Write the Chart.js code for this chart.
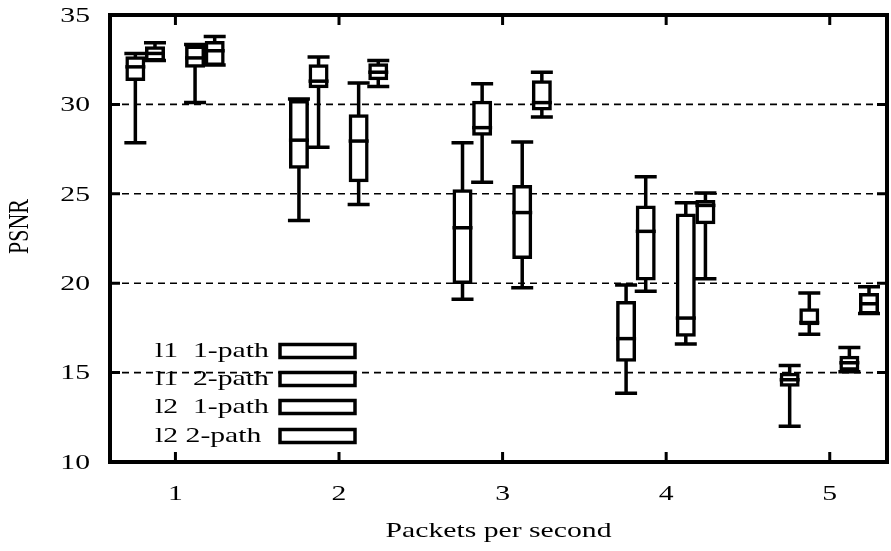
<!doctype html>
<html>
<head>
<meta charset="utf-8">
<title>PSNR vs packets per second</title>
<script src="https://cdn.jsdelivr.net/npm/chart.js@4.4.0/dist/chart.umd.min.js"></script>
<style>
  html, body { margin: 0; padding: 0; background: #fff; }
  #wrap { width: 891px; height: 551px; }
</style>
</head>
<body>
<div id="wrap"><canvas id="canvas" width="891" height="551"></canvas></div>
<script>
var categories = [1, 2, 3, 4, 5];
var yTicks = [10, 15, 20, 25, 30, 35];
var gridValues = [15, 20, 25, 30];

// one entry per packets-per-second value: [min, q1, median, q3, max]
var l1OnePath = [
    [27.85, 31.4, 32.1, 32.6, 32.85],
    [23.5, 26.5, 28.0, 30.15, 30.3],
    [19.1, 20.05, 23.1, 25.15, 27.85],
    [13.85, 15.7, 16.9, 18.9, 19.9],
    [12.0, 14.3, 14.6, 14.9, 15.4]
];
var l1TwoPath = [
    [32.45, 32.5, 32.85, 33.15, 33.45],
    [27.6, 31.0, 31.3, 32.15, 32.65],
    [25.65, 28.35, 28.7, 30.1, 31.15],
    [19.55, 20.25, 22.9, 24.25, 25.95],
    [17.15, 17.75, 17.8, 18.5, 19.45]
];
var l2OnePath = [
    [30.1, 32.15, 32.6, 33.2, 33.35],
    [24.4, 25.75, 27.95, 29.35, 31.2],
    [19.75, 21.45, 23.95, 25.4, 27.9],
    [16.6, 17.1, 18.05, 23.8, 24.5],
    [15.05, 15.2, 15.55, 15.85, 16.4]
];
var l2TwoPath = [
    [32.2, 32.25, 33.0, 33.45, 33.8],
    [31.0, 31.45, 31.8, 32.2, 32.45],
    [29.3, 29.75, 30.1, 31.25, 31.8],
    [20.25, 23.4, 24.35, 24.55, 25.05],
    [18.3, 18.35, 18.85, 19.35, 19.8]
];

var seriesLabels = ['l1  1-path', 'l1  2-path', 'l2  1-path', 'l2 2-path'];
var seriesStats = [l1OnePath, l1TwoPath, l2OnePath, l2TwoPath];
var seriesOffsets = [-0.245, -0.125, 0.12, 0.24];

var FONT = '22px "Liberation Serif", "Times New Roman", serif';
var STRETCH = 1.35;   // the original text is wide

var BOX_W = 20, CAP_W = 22, LINE_W = 3.5;

function stretchedText(ctx, text, x, y, align) {
    ctx.save();
    ctx.translate(x, y);
    ctx.scale(STRETCH, 1);
    ctx.textAlign = align;
    ctx.fillText(text, 0, 0);
    ctx.restore();
}

var boxPlot = {
    id: 'boxPlot',
    beforeDatasetsDraw: function(chart) {
        var ctx = chart.ctx, area = chart.chartArea;
        var xs = chart.scales.x, ys = chart.scales.y;
        ctx.save();
        // dashed grid
        ctx.strokeStyle = '#000';
        ctx.lineWidth = 1.6;
        ctx.setLineDash([7, 5]);
        gridValues.forEach(function(v) {
            var py = ys.getPixelForValue(v);
            ctx.beginPath();
            ctx.moveTo(area.left, py);
            ctx.lineTo(area.right, py);
            ctx.stroke();
        });
        ctx.setLineDash([]);
        // whiskers
        ctx.lineWidth = LINE_W;
        chart.data.datasets.forEach(function(ds) {
            ds.stats.forEach(function(s, i) {
                var px = xs.getPixelForValue(ds.data[i].x);
                var pMin = ys.getPixelForValue(s[0]);
                var pQ1 = ys.getPixelForValue(s[1]);
                var pQ3 = ys.getPixelForValue(s[3]);
                var pMax = ys.getPixelForValue(s[4]);
                ctx.beginPath();
                ctx.moveTo(px, pMax); ctx.lineTo(px, pQ3);
                ctx.moveTo(px, pQ1); ctx.lineTo(px, pMin);
                ctx.moveTo(px - CAP_W / 2, pMax); ctx.lineTo(px + CAP_W / 2, pMax);
                ctx.moveTo(px - CAP_W / 2, pMin); ctx.lineTo(px + CAP_W / 2, pMin);
                ctx.stroke();
            });
        });
        ctx.restore();
    },
    afterDatasetsDraw: function(chart) {
        var ctx = chart.ctx;
        var xs = chart.scales.x, ys = chart.scales.y;
        ctx.save();
        ctx.strokeStyle = '#000';
        ctx.lineWidth = LINE_W;
        chart.data.datasets.forEach(function(ds) {
            ds.stats.forEach(function(s, i) {
                var px = xs.getPixelForValue(ds.data[i].x);
                var pMed = ys.getPixelForValue(s[2]);
                ctx.beginPath();
                ctx.moveTo(px - BOX_W / 2, pMed);
                ctx.lineTo(px + BOX_W / 2, pMed);
                ctx.stroke();
            });
        });
        ctx.restore();
    },
    afterDraw: function(chart) {
        var ctx = chart.ctx, area = chart.chartArea;
        var xs = chart.scales.x, ys = chart.scales.y;
        ctx.save();
        ctx.strokeStyle = '#000';
        ctx.fillStyle = '#000';

        // frame
        ctx.lineWidth = 4;
        ctx.strokeRect(area.left, area.top, area.right - area.left, area.bottom - area.top);

        // inward ticks on all four sides
        ctx.lineWidth = 3;
        ctx.beginPath();
        categories.forEach(function(c) {
            var px = xs.getPixelForValue(c);
            ctx.moveTo(px, area.bottom); ctx.lineTo(px, area.bottom - 10);
            ctx.moveTo(px, area.top); ctx.lineTo(px, area.top + 10);
        });
        yTicks.forEach(function(v) {
            var py = ys.getPixelForValue(v);
            ctx.moveTo(area.left, py); ctx.lineTo(area.left + 10, py);
            ctx.moveTo(area.right, py); ctx.lineTo(area.right - 10, py);
        });
        ctx.stroke();

        // tick labels
        ctx.font = FONT;
        ctx.textBaseline = 'middle';
        yTicks.forEach(function(v) {
            stretchedText(ctx, String(v), area.left - 20, ys.getPixelForValue(v) + 1, 'right');
        });
        categories.forEach(function(c) {
            stretchedText(ctx, String(c), xs.getPixelForValue(c), area.bottom + 32, 'center');
        });

        // axis titles
        stretchedText(ctx, 'Packets per second', (area.left + area.right) / 2, area.bottom + 69, 'center');
        ctx.save();
        ctx.translate(20, (area.top + area.bottom) / 2 - 12);
        ctx.scale(STRETCH, 1);
        ctx.rotate(-Math.PI / 2);
        ctx.textAlign = 'center';
        ctx.fillText('PSNR', 0, 0);
        ctx.restore();

        // key, bottom left inside the plot
        var rows = [111, 83, 55, 26];
        ctx.lineWidth = LINE_W;
        seriesLabels.forEach(function(label, i) {
            var cy = area.bottom - rows[i];
            stretchedText(ctx, label, area.left + 45, cy, 'left');
            ctx.fillStyle = '#fff';
            ctx.fillRect(area.left + 170, cy - 6.5, 75, 13);
            ctx.fillStyle = '#000';
            ctx.strokeRect(area.left + 170, cy - 6.5, 75, 13);
        });
        ctx.restore();
    }
};

var datasets = seriesStats.map(function(stats, k) {
    return {
        label: seriesLabels[k],
        stats: stats,
        data: categories.map(function(c, i) {
            return { x: c + seriesOffsets[k], y: [stats[i][1], stats[i][3]] };
        }),
        backgroundColor: '#fff',
        borderColor: '#000',
        borderWidth: LINE_W,
        borderSkipped: false,
        inflateAmount: LINE_W / 2,
        barThickness: BOX_W - LINE_W,
        grouped: false
    };
});

var ctx = document.getElementById('canvas').getContext('2d');
window.psnrChart = new Chart(ctx, {
    type: 'bar',
    data: { datasets: datasets },
    options: {
        responsive: false,
        animation: false,
        devicePixelRatio: 1,
        layout: { padding: { left: 110, right: 4, top: 15, bottom: 89 } },
        plugins: {
            legend: { display: false },
            tooltip: { enabled: false }
        },
        scales: {
            x: { type: 'linear', min: 0.6, max: 5.35, offset: false, display: false },
            y: { min: 10, max: 35, display: false }
        }
    },
    plugins: [boxPlot]
});
</script>
</body>
</html>
